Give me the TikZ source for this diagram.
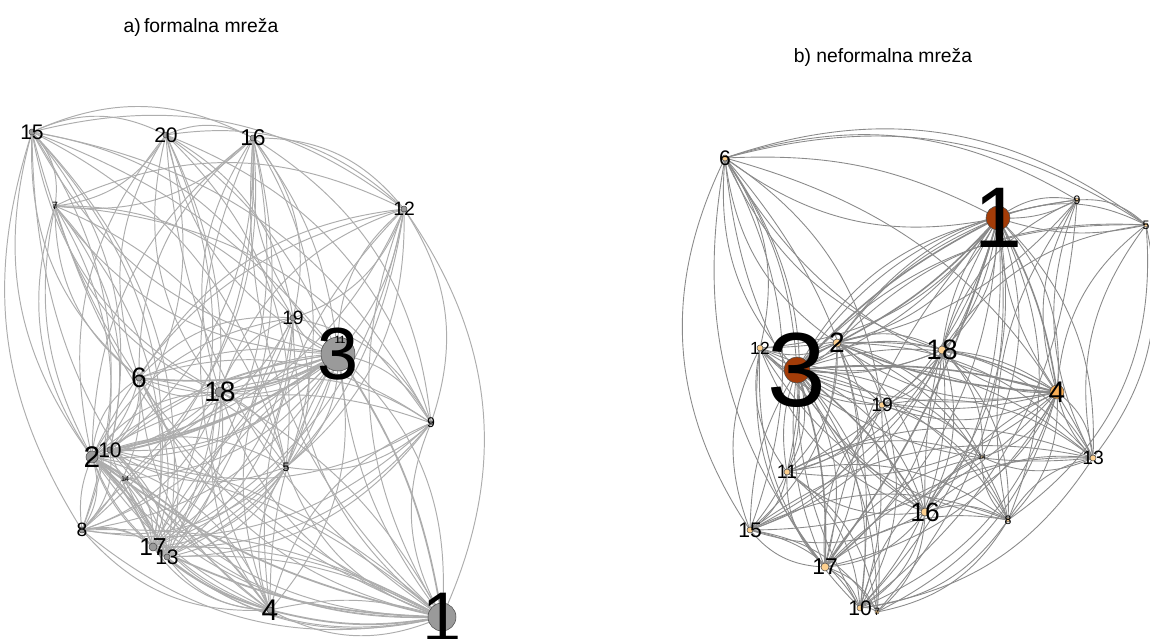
\documentclass[tikz,border=0pt]{standalone}
\usepackage{fontspec}
\setmainfont{Liberation Sans}
\definecolor{rust}{HTML}{A33C08}
\definecolor{peach}{HTML}{FDD08F}
\definecolor{ochre}{HTML}{F8AD55}
\definecolor{ashgray}{HTML}{9A9A9A}
\begin{document}
\begin{tikzpicture}[x=0.02cm, y=-0.02cm,
  aedge/.style={draw=black!32, line width=0.55pt},
  bedge/.style={draw=black!46, line width=0.5pt},
  vdot/.style={draw=black!70, circle, inner sep=0pt, line width=0.3pt},
  vlab/.style={inner sep=0pt, text=black},
  ptitle/.style={inner sep=0pt, font=\fontsize{11}{13}\selectfont}]
\useasboundingbox (0,0) rectangle (1150,639);
% node / x / y / font size / dot radius
\def\leftnodes{1/442/617/40/14, 2/92/457/17/6, 3/338/354/42/17, 4/270/610/17/3,
  5/286/467/7/2, 6/139/378/16/3, 7/55/206/6/2, 8/82/530/11/3, 9/431/423/8/2,
  10/110/450/12/3, 11/340/340/6/2, 12/404/209/11/3, 13/167/557/12/3,
  14/125/479/4/1.5, 15/32/132/12/3, 16/253/138/13/3, 17/153/547/14/4,
  18/220/392/16/5, 19/293/318/11/3, 20/166/135/12/3}
\def\rightnodes{1/998/218/49/12/rust, 2/837/343/16/4/peach, 3/797/370/60/13/rust,
  4/1057/392/17/7/ochre, 5/1146/225/7/2/peach, 6/725/158/12/3/peach,
  7/877/612/6/2/peach, 8/1008/520/7/2/peach, 9/1077/200/7/2/peach,
  10/860/608/12/3/peach, 11/787/472/11/3/peach, 12/760/348/10/3/peach,
  13/1093/458/11/3/peach, 14/982/457/4/1.5/peach, 15/750/530/12/3/peach,
  16/925/512/15/4/peach, 17/825/567/13/4/peach, 18/942/350/16/4/peach,
  19/882/405/11/3/peach}
\foreach \n/\x/\y/\s/\r in \leftnodes \coordinate (a\n) at (\x,\y);
\foreach \n/\x/\y/\s/\r/\c in \rightnodes \coordinate (b\n) at (\x,\y);

% a) formal network
\foreach \s/\tl in {
  3/{15,20,16,7,12,6,18,9,2,10,14,5,8,17,13,4,1,19,11},
  1/{15,20,16,12,6,18,9,2,10,14,5,8,17,13,4,19,7},
  2/{15,20,16,7,12,6,18,9,10,14,5,8,17,13,4,19},
  4/{15,6,18,9,10,14,5,8,17,13,19,12,16},
  18/{15,20,16,7,12,6,9,10,5,8,17,13,19},
  6/{15,20,16,7,12,9,10,5,8,17,13,19},
  15/{20,16,7,9,10,5,8,17,13,19,12},
  20/{16,7,12,9,10,5,17,13,19},
  16/{7,12,9,10,5,8,17,13,19,14},
  7/{12,9,10,5,8,17,19},
  12/{9,10,5,17,13,19},
  19/{9,10,5,8,17,13},
  9/{10,5,8,17,13},
  5/{10,8,17,13},
  10/{8,17,13},
  8/{17,13}}
  \foreach \t in \tl \draw[aedge] (a\s) to[bend left=26] (a\t);
\foreach \s/\tl in {3/{1,2,4,18,6,10,17,13,8,15,16,20,12},
  1/{2,4,10,17,13,8,18}, 2/{4,17,13,8,18,6}}
  \foreach \t in \tl \draw[aedge] (a\s) to[bend right=15] (a\t);
\foreach \s/\t in {3/2,3/1,1/2,2/4,1/4,3/18,3/6,2/17,2/13,1/17,3/10,4/17}
  \draw[aedge, line width=1pt] (a\s) to[bend left=12] (a\t);
\draw[aedge] (a12) to[bend left=30] (a1);
\draw[aedge] (a15) to[bend right=25] (a8);
\draw[aedge] (a7) to[bend right=20] (a2);

% b) informal network
\foreach \s/\tl in {
  3/{1,2,4,5,6,7,8,9,10,11,12,13,14,15,16,17,18,19},
  1/{2,4,5,6,7,8,9,10,11,12,13,14,15,16,17,18,19},
  4/{2,5,6,8,9,10,11,12,13,14,15,16,17,18,19,7},
  2/{5,6,8,9,10,11,12,13,14,15,16,17,18,19},
  18/{6,8,9,10,11,12,13,14,15,16,17,19,5},
  16/{6,8,10,11,12,13,14,15,17,19,7},
  17/{6,8,10,11,12,13,14,15,19,7},
  6/{5,9,11,12,15,19,10,13},
  19/{8,10,11,12,13,14,15},
  11/{8,10,12,13,14,15,7},
  15/{8,10,12,13,7},
  8/{9,10,12,13,14,7},
  13/{5,9,10,12,14},
  9/{5,12,10},
  10/{7,12,14},
  12/{7}}
  \foreach \t in \tl \draw[bedge] (b\s) to[bend left=24] (b\t);
\foreach \s/\tl in {3/{1,2,4,18,16,17,11,15,10,6,19}, 1/{2,4,18,6,9,5,16,17},
  4/{2,18,16,13}}
  \foreach \t in \tl \draw[bedge] (b\s) to[bend right=15] (b\t);
\foreach \s/\t in {3/1,3/4,1/4,3/2,1/2,3/17,1/17,3/16,4/2}
  \draw[bedge, line width=0.9pt] (b\s) to[bend left=10] (b\t);
\draw[bedge] (b6) to[bend left=28] (b5);
\draw[bedge] (b6) to[bend right=30] (b15);
\draw[bedge] (b5) to[bend left=25] (b13);
\draw[bedge] (b5) to[bend left=30] (b8);

% vertices and labels
\foreach \n/\x/\y/\s/\r in \leftnodes {
  \node[vdot, fill=ashgray, minimum size=2*\r*0.02cm] (ad\n) at (a\n) {};
  \node[vlab, font=\fontsize{\s}{\s}\selectfont] (al\n) at (a\n) {\n};
}
\foreach \n/\x/\y/\s/\r/\c in \rightnodes {
  \node[vdot, fill=\c, minimum size=2*\r*0.02cm] (bd\n) at (b\n) {};
  \node[vlab, font=\fontsize{\s}{\s}\selectfont] (bl\n) at (b\n) {\n};
}

\node[ptitle] (ta) at (201,27) {a)\,formalna mreža};
\node[ptitle] (tb) at (883,57) {b) neformalna mreža};
\end{tikzpicture}
\end{document}
